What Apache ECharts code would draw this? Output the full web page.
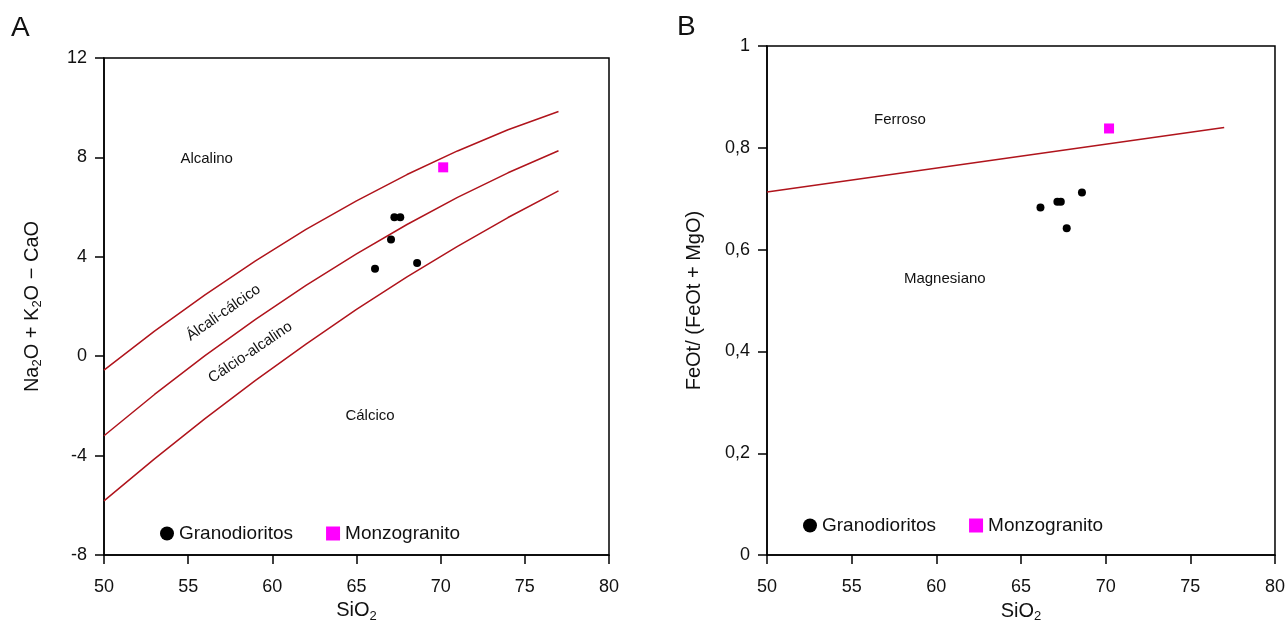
<!DOCTYPE html>
<html>
<head>
<meta charset="utf-8">
<script src="https://cdn.jsdelivr.net/npm/echarts@6/dist/echarts.min.js"></script>
<style>
  html, body { margin: 0; padding: 0; background: #fff; }
  #chart { width: 1288px; height: 628px; }
</style>
</head>
<body>
<div id="chart"></div>
<script>
// Diagrama A: MALI (Na2O+K2O-CaO) x SiO2
const curveSiO2 = [50, 53, 56, 59, 62, 65, 68, 71, 74, 77]
const limAlcalino = [-0.56, 1.01, 2.47, 3.84, 5.10, 6.25, 7.31, 8.26, 9.11, 9.85]
const limAlcaliCalcico = [-3.20, -1.54, 0.02, 1.48, 2.85, 4.12, 5.30, 6.39, 7.38, 8.27]
const limCalcioAlcalino = [-5.82, -4.13, -2.51, -0.97, 0.49, 1.88, 3.19, 4.42, 5.58, 6.65]

const granoSiO2A = [66.1, 67.05, 67.25, 67.6, 68.6]
const granoMali = [3.52, 4.70, 5.59, 5.59, 3.75]
const monzoSiO2A = [70.15]
const monzoMali = [7.6]

// Diagrama B: FeOt/(FeOt+MgO) x SiO2
const ferroLineSiO2 = [50, 77]
const ferroLine = [0.713, 0.840]
const granoSiO2B = [66.15, 67.15, 67.35, 67.7, 68.6]
const granoFe = [0.683, 0.694, 0.694, 0.642, 0.712]
const monzoSiO2B = [70.2]
const monzoFe = [0.838]

const xTicks = { min: 50, max: 80, interval: 5 }
const yTicksA = { min: -8, max: 12, interval: 4 }
const yTicksB = { min: 0, max: 1, interval: 0.2 }

const FONT = 'Liberation Sans, Arial, sans-serif'
const RED = '#b0141c'
const INK = '#111'

const zip = (xs, ys) => xs.map((x, i) => [x, ys[i]])

function valueAxis (idx, ticks, extra) {
  return Object.assign({
    type: 'value',
    gridIndex: idx,
    min: ticks.min,
    max: ticks.max,
    interval: ticks.interval,
    splitLine: { show: false },
    axisLine: { show: true, onZero: false, lineStyle: { color: '#000', width: 1.5 } },
    axisTick: { show: true, inside: false, length: 9, lineStyle: { color: '#000', width: 1.5 } },
    axisLabel: { color: INK, fontSize: 18, fontFamily: FONT, margin: 17 },
    nameLocation: 'middle',
    nameTextStyle: {
      color: INK, fontSize: 20, fontFamily: FONT,
      rich: { sub: { fontSize: 13, fontFamily: FONT, color: INK, padding: [11, 0, 0, 0] } }
    }
  }, extra)
}

function curve (name, xs, ys, xi) {
  return {
    name: name,
    type: 'line',
    xAxisIndex: xi,
    yAxisIndex: xi,
    data: zip(xs, ys),
    showSymbol: false,
    symbol: 'none',
    lineStyle: { color: RED, width: 1.5 },
    silent: true,
    z: 2
  }
}

function fieldLabels (xi, items) {
  return {
    type: 'scatter',
    xAxisIndex: xi,
    yAxisIndex: xi,
    symbolSize: 0,
    silent: true,
    itemStyle: { opacity: 1 },
    data: items.map(it => ({
      value: [it[1], it[2]],
      label: { show: true, position: 'inside', formatter: it[0], rotate: it[3] || 0,
        color: INK, fontSize: 15, fontFamily: FONT }
    }))
  }
}

function legendAt (left, top) {
  return {
    left: left, top: top, itemWidth: 14, itemHeight: 14, itemGap: 33,
    textStyle: { color: INK, fontSize: 19, fontFamily: FONT, padding: [0, 0, 0, 0] },
    data: [{ name: 'Granodioritos', icon: 'circle' }, { name: 'Monzogranito', icon: 'rect' }],
    selectedMode: false
  }
}

const xLabel = { color: INK, fontSize: 18, fontFamily: FONT, margin: 23 }

const chart = echarts.init(document.getElementById('chart'))
chart.setOption({
  animation: false,
  graphic: [
    { type: 'text', left: 11, top: 14, style: { text: 'A', fontSize: 28, fontFamily: FONT, fill: INK } },
    { type: 'text', left: 677, top: 13, style: { text: 'B', fontSize: 28, fontFamily: FONT, fill: INK } }
  ],
  grid: [
    { left: 104, top: 58, width: 505, height: 497, show: true, borderColor: '#000', borderWidth: 1.5, backgroundColor: 'transparent' },
    { left: 767, top: 46, width: 511, height: 510, show: true, borderColor: '#000', borderWidth: 1.5, backgroundColor: 'transparent' }
  ],
  legend: [legendAt(155, 519), legendAt(798, 511)],
  xAxis: [
    valueAxis(0, xTicks, { name: 'SiO{sub|2}', nameGap: 34, axisLabel: xLabel }),
    valueAxis(1, xTicks, { name: 'SiO{sub|2}', nameGap: 34, axisLabel: xLabel })
  ],
  yAxis: [
    valueAxis(0, yTicksA, { name: 'Na{sub|2}O + K{sub|2}O − CaO', nameGap: 60 }),
    valueAxis(1, yTicksB, {
      name: 'FeOt/ (FeOt + MgO)', nameGap: 63,
      axisLabel: {
        color: INK, fontSize: 18, fontFamily: FONT, margin: 17,
        formatter: v => (v === 0 || v === 1) ? String(v) : v.toFixed(1).replace('.', ',')
      }
    })
  ],
  series: [
    curve('lim1', curveSiO2, limAlcalino, 0),
    curve('lim2', curveSiO2, limAlcaliCalcico, 0),
    curve('lim3', curveSiO2, limCalcioAlcalino, 0),
    fieldLabels(0, [
      ['Alcalino', 56.1, 7.95],
      ['Álcali-cálcico', 57.1, 1.75, 35],
      ['Cálcio-alcalino', 58.7, 0.15, 34],
      ['Cálcico', 65.8, -2.4]
    ]),
    {
      name: 'Granodioritos', type: 'scatter', xAxisIndex: 0, yAxisIndex: 0,
      symbol: 'circle', symbolSize: 8, itemStyle: { color: '#000', opacity: 1 },
      data: zip(granoSiO2A, granoMali), z: 5
    },
    {
      name: 'Monzogranito', type: 'scatter', xAxisIndex: 0, yAxisIndex: 0,
      symbol: 'rect', symbolSize: 10, itemStyle: { color: '#ff00ff', opacity: 1 },
      data: zip(monzoSiO2A, monzoMali), z: 5
    },
    curve('limFe', ferroLineSiO2, ferroLine, 1),
    fieldLabels(1, [
      ['Ferroso', 57.85, 0.855],
      ['Magnesiano', 60.5, 0.543]
    ]),
    {
      name: 'Granodioritos', type: 'scatter', xAxisIndex: 1, yAxisIndex: 1,
      symbol: 'circle', symbolSize: 8, itemStyle: { color: '#000', opacity: 1 },
      data: zip(granoSiO2B, granoFe), z: 5
    },
    {
      name: 'Monzogranito', type: 'scatter', xAxisIndex: 1, yAxisIndex: 1,
      symbol: 'rect', symbolSize: 10, itemStyle: { color: '#ff00ff', opacity: 1 },
      data: zip(monzoSiO2B, monzoFe), z: 5
    }
  ]
})
</script>
</body>
</html>
